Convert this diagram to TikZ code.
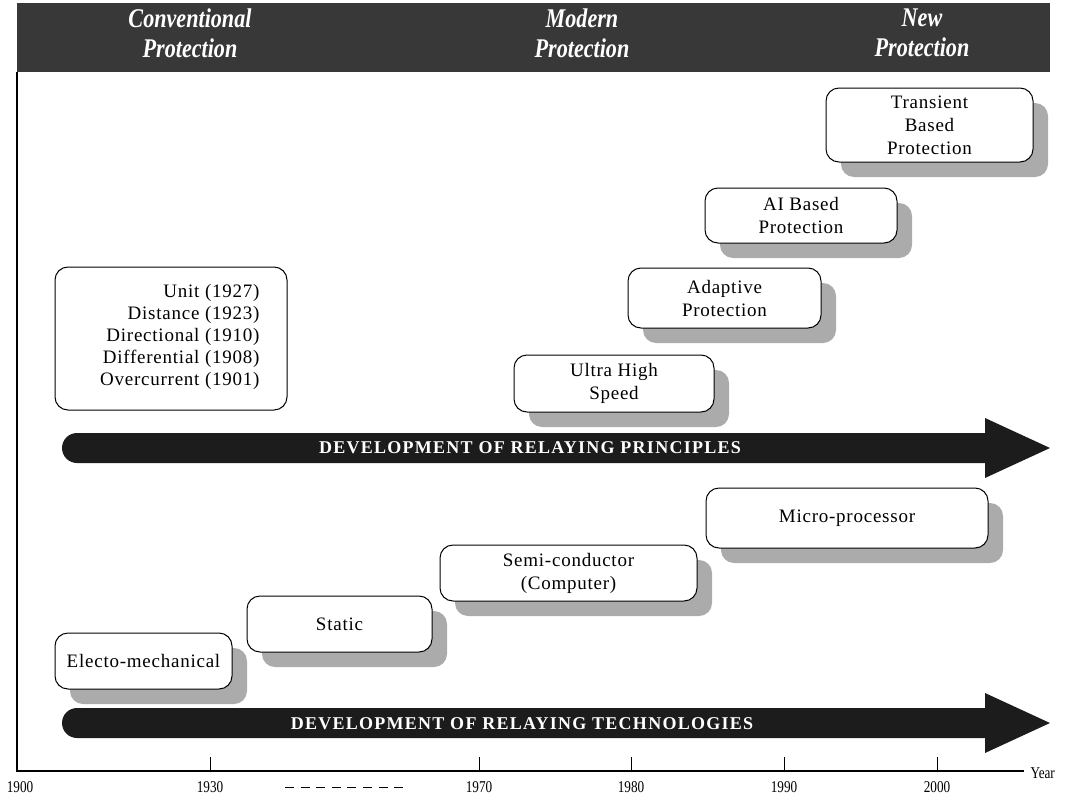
\documentclass[tikz,border=0pt]{standalone}
\usepackage{fontspec}
\setmainfont{Liberation Serif}
\newfontfamily\headfont[FakeStretch=0.82]{Liberation Serif}
\newfontfamily\boxfont[LetterSpace=4]{Liberation Serif}
\newfontfamily\bandfont[LetterSpace=7]{Liberation Serif}
\newfontfamily\axisfont[FakeStretch=0.8]{Liberation Serif}
\usetikzlibrary{shadows}
\definecolor{banner}{HTML}{383838}
\definecolor{band}{HTML}{1C1C1C}
\definecolor{shade}{HTML}{ABABAB}
\tikzset{
  headtext/.style={text=white, font=\headfont\fontsize{27}{30}\selectfont\bfseries\itshape, align=center},
  roundbox/.style={draw=black, line width=1pt, fill=white, rounded corners=13pt, inner sep=0pt,
    font=\boxfont\fontsize{19}{23}\selectfont, align=center},
  shadowed/.style={drop shadow={shadow xshift=15pt, shadow yshift=-15pt, fill=shade, opacity=1}},
  bandtext/.style={text=white, font=\bandfont\fontsize{18}{20}\selectfont\bfseries},
  yearlabel/.style={font=\axisfont\fontsize{16.5}{18}\selectfont},
  tick/.style={line width=0.9pt},
}
\begin{document}
\begin{tikzpicture}[x=1pt, y=-1pt]
\useasboundingbox (0,0) rectangle (1065,800);

% era banner
\fill[banner] (17,3) rectangle (1050,72);
\node[headtext] (conv) at (190,33) {Conventional\\Protection};
\node[headtext] (modern) at (582,33) {Modern\\Protection};
\node[headtext] (newp) at (922,33) {New\\Protection};

% frame: left edge and time axis
\coordinate (frametop) at (17,72);
\coordinate (origin) at (17,771);
\coordinate (axisend) at (1024,771);
\draw[line width=1.6pt] (frametop) -- (origin) -- (axisend);
\node[yearlabel, anchor=west] (year) at (1027,773) {Year};

\foreach \x/\yr in {210/1930, 479/1970, 631/1980, 784/1990, 937/2000} {
  \draw[tick] (\x,757) -- (\x,771);
  \node[yearlabel] (y\yr) at (\x,787) {\yr};
}
\node[yearlabel] (y1900) at (20,787) {1900};
\draw[line width=1pt, dash pattern=on 9pt off 6.6pt] (285,787) -- (403,787);

% principles band
\fill[band] (985,433) [rounded corners=15pt] -- (62,433) -- (62,463) [sharp corners] -- (985,463)
  -- (985,478) -- (1050,448) -- (985,418) -- cycle;
\node[bandtext] (principles) at (530,448) {DEVELOPMENT OF RELAYING PRINCIPLES};

% technologies band
\fill[band] (985,708) [rounded corners=15pt] -- (62,708) -- (62,738) [sharp corners] -- (985,738)
  -- (985,753) -- (1050,723) -- (985,693) -- cycle;
\node[bandtext] (technologies) at (522,724) {DEVELOPMENT OF RELAYING TECHNOLOGIES};

% relaying principles
\node[roundbox, minimum width=232pt, minimum height=143pt] (classic) at (171,338.5) {};
\node[font=\boxfont\fontsize{19}{22}\selectfont, align=right, anchor=east] (classiclist) at (263,337)
  {Unit (1927)\\Distance (1923)\\Directional (1910)\\Differential (1908)\\Overcurrent (1901)};

\node[roundbox, shadowed, minimum width=200pt, minimum height=57pt] (ultra) at (614,383.5) {Ultra High\\Speed};
\node[roundbox, shadowed, minimum width=193pt, minimum height=60pt] (adaptive) at (724.5,298) {Adaptive\\Protection};
\node[roundbox, shadowed, minimum width=192pt, minimum height=55pt] (ai) at (801,215.5) {AI Based\\Protection};
\node[roundbox, shadowed, minimum width=207pt, minimum height=74pt] (transient) at (929.5,125) {Transient\\Based\\Protection};

% relaying technologies
\node[roundbox, shadowed, minimum width=177pt, minimum height=56pt] (electro) at (143.5,661) {Electo-mechanical};
\node[roundbox, shadowed, minimum width=185pt, minimum height=56pt] (static) at (339.5,624) {Static};
\node[roundbox, shadowed, minimum width=257pt, minimum height=56pt] (semi) at (568.5,573) {Semi-conductor\\(Computer)};
\node[roundbox, shadowed, minimum width=282pt, minimum height=60pt] (micro) at (847,518) {Micro-processor};
\end{tikzpicture}
\end{document}
